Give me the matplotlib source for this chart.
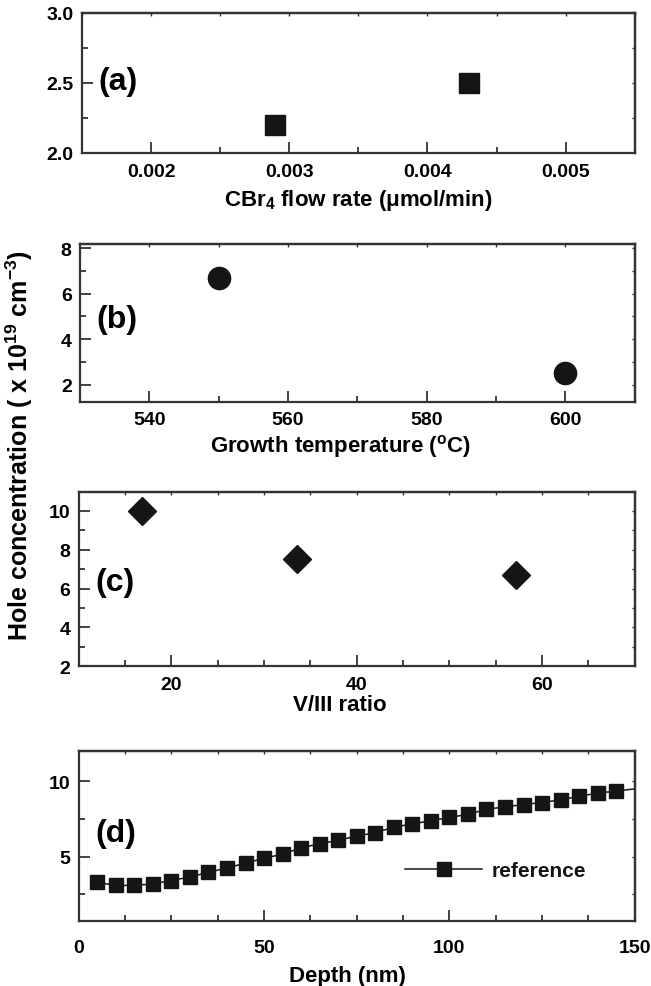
import matplotlib
matplotlib.use("Agg")
import matplotlib.pyplot as plt
from matplotlib import font_manager
from matplotlib.ticker import FixedLocator

plt.rcParams['font.family'] = ['Liberation Sans', 'DejaVu Sans']
plt.rcParams['font.weight'] = 'bold'
plt.rcParams['axes.labelweight'] = 'bold'
plt.rcParams['mathtext.default'] = 'regular'

installed = {f.name for f in font_manager.fontManager.ttflist}
NARROW = 'Liberation Sans Narrow' if 'Liberation Sans Narrow' in installed else 'Liberation Sans'

# (a) CBr4 flow rate
cbr4_flow = [0.0029, 0.0043]
hole_a = [2.2, 2.5]

# (b) growth temperature
growth_temp = [550, 600]
hole_b = [6.7, 2.5]

# (c) V/III ratio
v3_ratio = [16.8, 33.6, 57.2]
hole_c = [10.0, 7.5, 6.7]

# (d) depth profile
depth = [5, 10, 15, 20, 25, 30, 35, 40, 45, 50, 55, 60, 65, 70, 75, 80, 85,
         90, 95, 100, 105, 110, 115, 120, 125, 130, 135, 140, 145, 151]
hole_d = [3.3, 3.1, 3.1, 3.2, 3.42, 3.66, 3.96, 4.26, 4.57, 4.9, 5.17, 5.6,
          5.85, 6.1, 6.36, 6.6, 6.95, 7.18, 7.38, 7.61, 7.8, 8.15, 8.3, 8.46,
          8.59, 8.77, 9.01, 9.21, 9.36, 9.52]

DARK = '#151515'
TICK_FS = 14
LABEL_FS = 16
PANEL_FS = 23


def style_axes(ax, xmaj, xmin, ymaj, ymin, top, right, xlabels, ylabels, xpad=7):
    for s in ax.spines.values():
        s.set_linewidth(1.6)
        s.set_color('#333333')
    ax.xaxis.set_major_locator(FixedLocator(xmaj))
    ax.xaxis.set_minor_locator(FixedLocator(xmin))
    ax.yaxis.set_major_locator(FixedLocator(ymaj))
    ax.yaxis.set_minor_locator(FixedLocator(ymin))
    ax.set_xticklabels(xlabels, fontfamily=NARROW)
    ax.set_yticklabels(ylabels, fontfamily=NARROW)
    ax.tick_params(which='major', direction='in', length=8, width=1.3,
                   labelsize=TICK_FS, color='#333333')
    ax.tick_params(which='minor', direction='in', length=4, width=1.3,
                   color='#333333')
    ax.tick_params(axis='x', pad=xpad)
    ax.tick_params(axis='y', pad=6)
    sx = ax.secondary_xaxis('top')
    sx.set_xticks(top)
    sx.tick_params(direction='in', length=2.5, width=1.0, labeltop=False,
                   color='#333333')
    sx.spines['top'].set_linewidth(1.6)
    sy = ax.secondary_yaxis('right')
    sy.set_yticks(right)
    sy.tick_params(direction='in', length=2.5, width=1.0, labelright=False,
                   color='#333333')
    sy.spines['right'].set_linewidth(1.6)


def panel_label(ax, text, y):
    ax.text(0.03, y, text, transform=ax.transAxes, fontsize=PANEL_FS,
            fontfamily=NARROW, ha='left', va='center')


fig = plt.figure(figsize=(6.51, 9.87), dpi=100)
ax_a = fig.add_axes([0.126, 0.844, 0.849, 0.142])
ax_b = fig.add_axes([0.123, 0.592, 0.852, 0.160])
ax_c = fig.add_axes([0.121, 0.324, 0.854, 0.177])
ax_d = fig.add_axes([0.121, 0.066, 0.854, 0.172])

# (a)
ax_a.plot(cbr4_flow, hole_a, 's', color=DARK, markersize=15, ls='none')
ax_a.set_xlim(0.0015, 0.0055)
ax_a.set_ylim(2.0, 3.0)
style_axes(ax_a, [0.002, 0.003, 0.004, 0.005], [0.0025, 0.0035, 0.0045],
           [2.0, 2.5, 3.0], [2.25, 2.75],
           [0.0015 + 0.0005 * i for i in range(9)], [2.25, 2.5, 2.75],
           ['0.002', '0.003', '0.004', '0.005'], ['2.0', '2.5', '3.0'])
ax_a.set_xlabel('CBr$_4$ flow rate (\u03bcmol/min)', fontsize=LABEL_FS)
ax_a.xaxis.set_label_coords(0.5, -0.33)
ax_a.xaxis.label.set_va('center')
panel_label(ax_a, '(a)', 0.51)

# (b)
ax_b.plot(growth_temp, hole_b, 'o', color=DARK, markersize=16, ls='none')
ax_b.set_xlim(530, 610)
ax_b.set_ylim(1.25, 8.2)
style_axes(ax_b, [540, 560, 580, 600], [550, 570, 590],
           [2, 4, 6, 8], [3, 5, 7],
           [540, 550, 560, 570, 580, 590, 600], [2, 3, 4, 5, 6, 7, 8],
           ['540', '560', '580', '600'], ['2', '4', '6', '8'])
ax_b.set_xlabel('Growth temperature ($^{o}$C)', fontsize=LABEL_FS)
ax_b.xaxis.set_label_coords(0.47, -0.278)
ax_b.xaxis.label.set_va('center')
panel_label(ax_b, '(b)', 0.525)

# (c)
ax_c.plot(v3_ratio, hole_c, 'D', color=DARK, markersize=14, ls='none')
ax_c.set_xlim(10, 70)
ax_c.set_ylim(2, 11)
style_axes(ax_c, [20, 40, 60], [15, 25, 30, 35, 45, 50, 55, 65],
           [2, 4, 6, 8, 10], [3, 5, 7, 9],
           [15, 20, 25, 30, 35, 40, 45, 50, 55, 60, 65],
           [3, 4, 5, 6, 7, 8, 9, 10],
           ['20', '40', '60'], ['2', '4', '6', '8', '10'])
ax_c.set_xlabel('V/III ratio', fontsize=LABEL_FS)
ax_c.xaxis.set_label_coords(0.47, -0.217)
ax_c.xaxis.label.set_va('center')
panel_label(ax_c, '(c)', 0.48)

# (d)
ax_d.plot(depth, hole_d, '-s', color=DARK, lw=1.1, markersize=10,
          markevery=slice(0, len(depth) - 1), label='reference')
ax_d.set_xlim(0, 150)
ax_d.set_ylim(0.75, 12)
style_axes(ax_d, [0, 50, 100, 150], [12.5, 25, 37.5, 62.5, 75, 87.5,
                                      112.5, 125, 137.5],
           [5, 10], [2.5, 7.5],
           [12.5, 25, 37.5, 50, 62.5, 75, 87.5, 100, 112.5, 125, 137.5],
           [2.5, 5, 7.5, 10],
           ['0', '50', '100', '150'], ['5', '10'], xpad=13)
ax_d.set_xlabel('Depth (nm)', fontsize=LABEL_FS)
ax_d.xaxis.set_label_coords(0.484, -0.324)
ax_d.xaxis.label.set_va('center')
panel_label(ax_d, '(d)', 0.52)
leg = ax_d.legend(loc='center left', bbox_to_anchor=(0.587, 0.295),
                  frameon=False, fontsize=15, handlelength=3.7,
                  handletextpad=0.45, borderaxespad=0, borderpad=0)
for t in leg.get_texts():
    t.set_fontweight('bold')
    t.set_color('#151515')

fig.text(0.03, 0.549, 'Hole concentration ( x 10$^{19}$ cm$^{-3}$)',
         rotation=90, ha='center', va='center', fontsize=18)

fig.savefig('out.png', dpi=100)
